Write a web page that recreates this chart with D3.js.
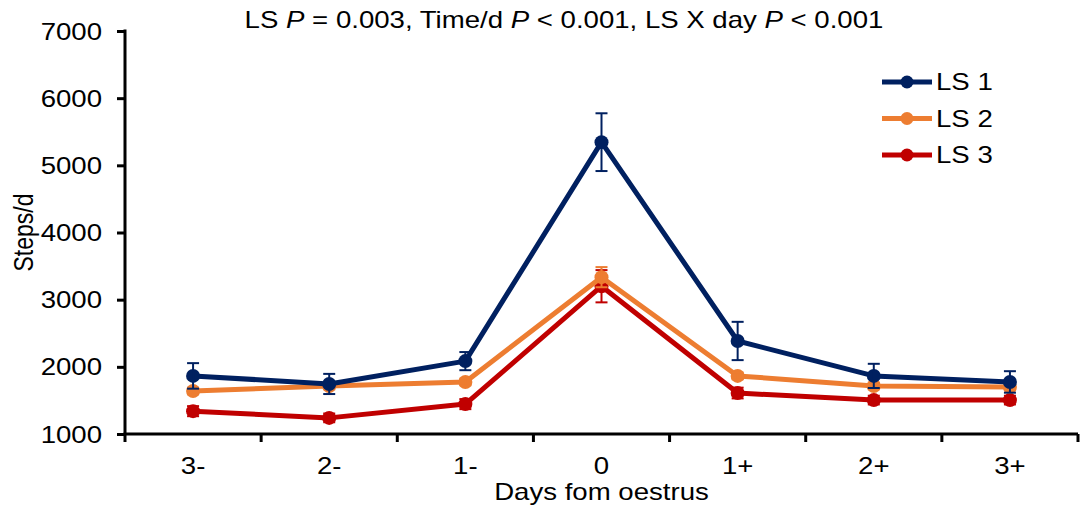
<!DOCTYPE html>
<html>
<head>
<meta charset="utf-8">
<script src="https://cdn.jsdelivr.net/npm/d3@7"></script>
<style>
  body { margin: 0; background: #fff; }
  text { font-family: "Liberation Sans", Arial, sans-serif; fill: #000; }
</style>
</head>
<body>
<div id="chart"></div>
<script>
var days = ['3-', '2-', '1-', '0', '1+', '2+', '3+'];
var seriesNames = ['LS 1', 'LS 2', 'LS 3'];
var ls1 = [1865, 1745, 2085, 5345, 2385, 1865, 1775];
var ls1Err = [190, 150, 135, 430, 285, 180, 160];
var ls2 = [1640, 1715, 1775, 3335, 1865, 1715, 1700];
var ls2Err = [50, 50, 50, 150, 50, 50, 50];
var ls3 = [1340, 1240, 1445, 3200, 1610, 1505, 1505];
var ls3Err = [75, 65, 75, 240, 80, 65, 65];
var yTicks = [1000, 2000, 3000, 4000, 5000, 6000, 7000];
var colors = ['#002060', '#ED7D31', '#C00000'];

var width = 1080, height = 508;
var margin = ({top: 31, right: 2, bottom: 74, left: 125});
// the original picture is stretched sideways, so text is too
var stretch = 1.2;
var fontSize = '23px';

var series = [
  {name: seriesNames[0], values: ls1, err: ls1Err, color: colors[0]},
  {name: seriesNames[1], values: ls2, err: ls2Err, color: colors[1]},
  {name: seriesNames[2], values: ls3, err: ls3Err, color: colors[2]}
];

function drawChart() {
  const svg = d3.select('#chart')
    .append('svg')
    .attr('width', width)
    .attr('height', height);

  const x = d3.scaleBand()
    .domain(days)
    .range([margin.left, width - margin.right]);

  const y = d3.scaleLinear()
    .domain([1000, 7000])
    .range([height - margin.bottom, margin.top]);

  // y axis
  const yAxis = svg.append('g')
    .attr('transform', `translate(${margin.left},0)`)
    .call(d3.axisLeft(y).tickValues(yTicks).tickFormat(d3.format('d')).tickSize(8).tickSizeOuter(0));
  yAxis.select('.domain').attr('stroke-width', 3).attr('d', `M0,${y(7000) - 1.5}V${y(1000)}`);
  yAxis.selectAll('.tick line').attr('stroke-width', 3);
  yAxis.selectAll('.tick text')
    .attr('x', -23 / stretch)
    .attr('dy', '0.35em')
    .attr('transform', `scale(${stretch},1)`)
    .style('font-size', fontSize)
    .style('font-family', '"Liberation Sans", Arial, sans-serif');

  // x axis, ticks on category boundaries
  const xAxisG = svg.append('g')
    .attr('transform', `translate(0,${y(1000)})`);
  xAxisG.append('line')
    .attr('x1', margin.left - 1.5)
    .attr('x2', width - margin.right)
    .attr('stroke', '#000')
    .attr('stroke-width', 3);
  const bounds = days.map(d => x(d)).concat([x(days[days.length - 1]) + x.bandwidth()]);
  xAxisG.selectAll('line.tk')
    .data(bounds)
    .join('line')
      .attr('class', 'tk')
      .attr('x1', d => d).attr('x2', d => d)
      .attr('y1', 0).attr('y2', 8)
      .attr('stroke', '#000')
      .attr('stroke-width', 3);
  xAxisG.selectAll('text')
    .data(days)
    .join('text')
      .attr('transform', d => `translate(${x(d) + x.bandwidth() / 2},40) scale(${stretch},1)`)
      .attr('text-anchor', 'middle')
      .style('font-size', fontSize)
      .text(d => d);

  // axis titles
  svg.append('text')
    .attr('transform', `translate(${x('0') + x.bandwidth() / 2},500) scale(${stretch},1)`)
    .attr('text-anchor', 'middle')
    .style('font-size', fontSize)
    .text('Days fom oestrus');

  svg.append('text')
    .attr('transform', `translate(33,${(y(1000) + y(7000)) / 2}) scale(${stretch},1) rotate(-90)`)
    .attr('text-anchor', 'middle')
    .style('font-size', fontSize)
    .text('Steps/d');

  // title
  const title = svg.append('text')
    .attr('transform', `translate(564,28) scale(${stretch},1)`)
    .attr('text-anchor', 'middle')
    .style('font-size', fontSize);
  title.append('tspan').text('LS ');
  title.append('tspan').style('font-style', 'italic').text('P');
  title.append('tspan').text(' = 0.003, Time/d ');
  title.append('tspan').style('font-style', 'italic').text('P');
  title.append('tspan').text(' < 0.001, LS X day ');
  title.append('tspan').style('font-style', 'italic').text('P');
  title.append('tspan').text(' < 0.001');

  const cx = d => x(d) + x.bandwidth() / 2;
  const line = d3.line()
    .x((v, i) => cx(days[i]))
    .y(v => y(v));

  // draw series from last to first so LS 1 is on top
  series.slice().reverse().forEach(s => {
    const g = svg.append('g');
    g.append('path')
      .datum(s.values)
      .attr('d', line)
      .attr('fill', 'none')
      .attr('stroke', s.color)
      .attr('stroke-width', 5)
      .attr('stroke-linejoin', 'round');

    g.selectAll('circle')
      .data(s.values)
      .join('circle')
        .attr('cx', (v, i) => cx(days[i]))
        .attr('cy', v => y(v))
        .attr('r', 7)
        .attr('fill', s.color);

    const eb = g.selectAll('g.eb')
      .data(s.values.map((v, i) => ({day: days[i], v: v, e: s.err[i]})))
      .join('g')
        .attr('class', 'eb')
        .attr('stroke', s.color)
        .attr('stroke-width', 2);
    eb.append('line')
      .attr('x1', d => cx(d.day)).attr('x2', d => cx(d.day))
      .attr('y1', d => y(d.v + d.e)).attr('y2', d => y(d.v - d.e));
    eb.append('line')
      .attr('x1', d => cx(d.day) - 6).attr('x2', d => cx(d.day) + 6)
      .attr('y1', d => y(d.v + d.e)).attr('y2', d => y(d.v + d.e));
    eb.append('line')
      .attr('x1', d => cx(d.day) - 6).attr('x2', d => cx(d.day) + 6)
      .attr('y1', d => y(d.v - d.e)).attr('y2', d => y(d.v - d.e));
  });

  // legend
  const legend = svg.append('g')
    .attr('transform', 'translate(882,82)');
  const item = legend.selectAll('g')
    .data(series)
    .join('g')
      .attr('transform', (d, i) => `translate(0,${i * 36.5})`);
  item.append('line')
    .attr('x1', 0).attr('x2', 50)
    .attr('stroke', d => d.color)
    .attr('stroke-width', 5);
  item.append('circle')
    .attr('cx', 25).attr('r', 6.5)
    .attr('fill', d => d.color);
  item.append('text')
    .attr('transform', `translate(54,8) scale(${stretch},1)`)
    .style('font-size', fontSize)
    .text(d => d.name);
}

drawChart();
</script>
</body>
</html>
